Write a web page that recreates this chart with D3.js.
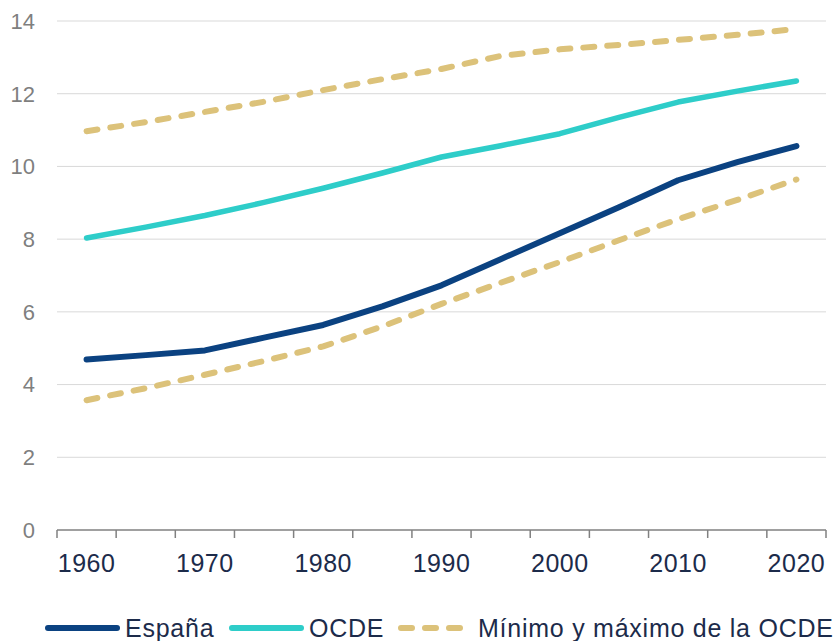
<!DOCTYPE html>
<html>
<head>
<meta charset="utf-8">
<script src="https://cdn.jsdelivr.net/npm/d3@7"></script>
<style>
  body { margin: 0; background: #fff; }
  svg { font-family: "Liberation Sans", Arial, sans-serif; }
</style>
</head>
<body>
<svg id="chart" width="836" height="641"></svg>
<script>
const years = ["1960", "1965", "1970", "1975", "1980", "1985", "1990", "1995", "2000", "2005", "2010", "2015", "2020"];
const tickYears = ["1960", "1970", "1980", "1990", "2000", "2010", "2020"];
const espana = [4.69, 4.81, 4.94, 5.29, 5.64, 6.15, 6.73, 7.45, 8.16, 8.88, 9.62, 10.12, 10.56];
const ocde = [8.03, 8.33, 8.65, 9.01, 9.40, 9.82, 10.26, 10.57, 10.90, 11.35, 11.77, 12.07, 12.35];
const ocdeMax = [10.97, 11.22, 11.50, 11.78, 12.10, 12.40, 12.68, 13.04, 13.22, 13.34, 13.48, 13.62, 13.78];
const ocdeMin = [3.57, 3.90, 4.27, 4.65, 5.05, 5.60, 6.22, 6.80, 7.37, 7.97, 8.55, 9.08, 9.64];
const yTicks = [0, 2, 4, 6, 8, 10, 12, 14];

const svg = d3.select("#chart");
const margin = {top: 21, left: 57, right: 10, bottom: 111};
const width = 836 - margin.left - margin.right;   // 769
const height = 641 - margin.top - margin.bottom;

const x = d3.scaleBand().domain(years).range([0, width]);
const y = d3.scaleLinear().domain([0, 14]).range([height, 0]);

const g = svg.append("g").attr("transform", "translate(" + margin.left + "," + margin.top + ")");

// gridlines
g.selectAll("line.grid")
  .data(yTicks.filter(d => d > 0))
  .enter().append("line")
  .attr("x1", 0).attr("x2", width)
  .attr("y1", d => y(d)).attr("y2", d => y(d))
  .attr("stroke", "#d9d9d9").attr("stroke-width", 1);

// y labels
g.selectAll("text.ylab")
  .data(yTicks)
  .enter().append("text")
  .attr("x", -22)
  .attr("y", d => y(d))
  .attr("dy", "0.36em")
  .attr("text-anchor", "end")
  .attr("fill", "#7f7f7f")
  .style("font-size", "22px")
  .text(d => d);

// x axis line + ticks at category boundaries
const xAxis = g.append("g").attr("transform", "translate(0," + height + ")");
xAxis.append("line").attr("x1", 0).attr("x2", width).attr("stroke", "#808080").attr("stroke-width", 1.5);
const bounds = years.map(d => x(d)).concat([width]);
xAxis.selectAll("line.tick")
  .data(bounds)
  .enter().append("line")
  .attr("x1", d => d).attr("x2", d => d)
  .attr("y1", 0).attr("y2", 8)
  .attr("stroke", "#808080").attr("stroke-width", 1.5);
xAxis.selectAll("text")
  .data(tickYears)
  .enter().append("text")
  .attr("x", d => x(d) + x.bandwidth() / 2)
  .attr("y", 42)
  .attr("text-anchor", "middle")
  .attr("fill", "#1c2b4a")
  .style("font-size", "25px")
  .style("letter-spacing", "0.5px")
  .text(d => d);

const line = d3.line()
  .x((d, i) => x(years[i]) + x.bandwidth() / 2)
  .y(d => y(d));

const series = [
  {name: "max", values: ocdeMax, color: "#dcc27a", width: 6, dash: "11,13"},
  {name: "min", values: ocdeMin, color: "#dcc27a", width: 6, dash: "11,13"},
  {name: "ocde", values: ocde, color: "#2ecdc9", width: 5.5, dash: null},
  {name: "espana", values: espana, color: "#0b4281", width: 6, dash: null}
];

g.selectAll("path.series")
  .data(series)
  .enter().append("path")
  .attr("d", d => line(d.values))
  .attr("fill", "none")
  .attr("stroke", d => d.color)
  .attr("stroke-width", d => d.width)
  .attr("stroke-linecap", "round")
  .attr("stroke-linejoin", "round")
  .attr("stroke-dasharray", d => d.dash);

// legend
const legend = [
  {label: "España", color: "#0b4281", x: 48, dash: null},
  {label: "OCDE", color: "#2ecdc9", x: 232, dash: null},
  {label: "Mínimo y máximo de la OCDE", color: "#dcc27a", x: 401, dash: "11,13"}
];
const lg = svg.append("g").attr("transform", "translate(0,628)");
const items = lg.selectAll("g").data(legend).enter().append("g");
items.append("line")
  .attr("x1", d => d.x).attr("x2", d => d.x + 69)
  .attr("stroke", d => d.color).attr("stroke-width", 6)
  .attr("stroke-linecap", "round")
  .attr("stroke-dasharray", d => d.dash);
items.append("text")
  .attr("x", d => d.x + 77)
  .attr("y", 9)
  .attr("fill", "#1c2b4a")
  .style("font-size", "25px")
  .style("letter-spacing", "0.75px")
  .text(d => d.label);
</script>
</body>
</html>
